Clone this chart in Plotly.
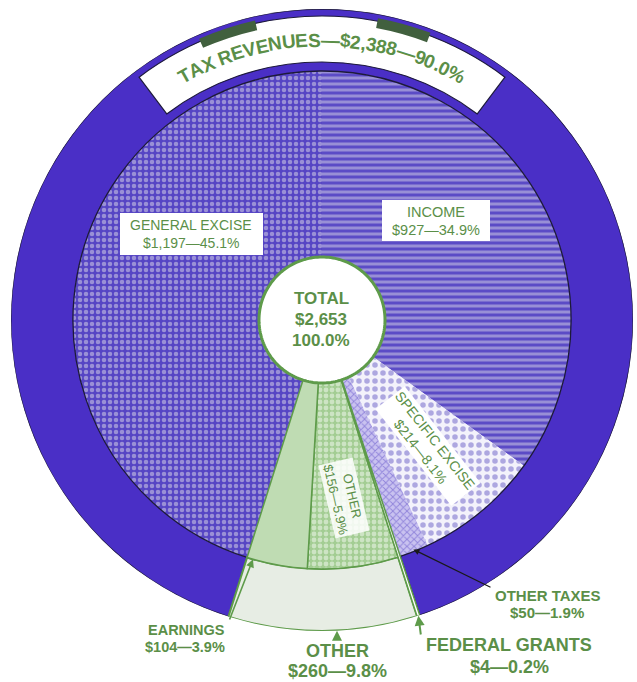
import math
import plotly.graph_objects as go

# ---- revenue data (millions of dollars) ---------------------------------
slices = ["INCOME", "SPECIFIC EXCISE", "OTHER TAXES", "FEDERAL GRANTS",
          "OTHER", "EARNINGS", "GENERAL EXCISE"]
amounts = [927, 214, 50, 4, 156, 104, 1197]
percents = [34.9, 8.1, 1.9, 0.2, 5.9, 3.9, 45.1]

# outer ring groups, clockwise from the federal grants wedge
groups = ["FEDERAL GRANTS", "OTHER", "TAX REVENUES"]
group_amounts = [4, 260, 2388]
group_percents = [0.2, 9.8, 90.0]

total_amount = 2653
total_percent = 100.0

# ---- page geometry -------------------------------------------------------
W, H = 637, 682
CX, CY = 322, 320
R_HOLE, R_PIE, R_OUT = 63, 249, 311

GREEN = "#5b8f48"
LINE_GREEN = "#5e9b4a"
RING_PURPLE = "#4a2fc6"
FONT = "Liberation Sans, Arial, sans-serif"


def fmt(a, p):
    return f"${a:,}\u2014{p:.1f}%"


def polar_px(r, th):
    t = math.radians(th)
    return CX + r * math.sin(t), CY - r * math.cos(t)


def to_paper(px, py):
    return px / W, 1 - py / H


# slice angles (clockwise from 12 o'clock)
span = sum(amounts)
starts, widths = [], []
acc = 0
for a in amounts:
    starts.append(acc / span * 360)
    widths.append(a / span * 360)
    acc += a
mids = [s + w / 2 for s, w in zip(starts, widths)]
idx = {name: i for i, name in enumerate(slices)}

# ring angles
ring_span = sum(group_amounts)
ring_start = starts[idx["FEDERAL GRANTS"]]
ring_starts, ring_widths = [], []
acc = ring_start
for a in group_amounts:
    w = a / ring_span * 360
    ring_starts.append(acc)
    ring_widths.append(w)
    acc += w
ring_mids = [(s + w / 2) % 360 for s, w in zip(ring_starts, ring_widths)]
gidx = {name: i for i, name in enumerate(groups)}

fig = go.Figure()


def sector(theta, width, base, thick, color, line_color=None, line_width=0,
           pattern=None):
    marker = dict(color=color,
                  line=dict(color=line_color or color, width=line_width))
    if pattern:
        marker["pattern"] = pattern
    fig.add_trace(go.Barpolar(r=[thick], theta=[theta], width=[width],
                              base=[base], marker=marker, hoverinfo="skip",
                              showlegend=False))


slice_style = {
    "INCOME": dict(color="#5b4bc6", pattern=dict(
        shape="-", fgcolor="#d6d4e6", bgcolor="#5b4bc6", size=6, solidity=0.5)),
    "SPECIFIC EXCISE": dict(color="#f3f2fb", pattern=dict(
        shape=".", fgcolor="#675bc6", bgcolor="#f3f2fb", size=8, solidity=0.38)),
    "OTHER TAXES": dict(color="#c9c2f0", pattern=dict(
        shape="x", fgcolor="#5a49c6", bgcolor="#c9c2f0", size=5, solidity=0.35)),
    "OTHER": dict(color="#a3cd93", pattern=dict(
        shape=".", fgcolor="#f8fbf5", bgcolor="#a3cd93", size=6, solidity=0.5)),
    "EARNINGS": dict(color="#bfdcb3"),
    "GENERAL EXCISE": dict(color="#5645c4", pattern=dict(
        shape=".", fgcolor="#dddce8", bgcolor="#5645c4", size=6, solidity=0.45)),
}

# inner pie (tax slices first)
for name in ["GENERAL EXCISE", "INCOME", "SPECIFIC EXCISE", "OTHER TAXES"]:
    i = idx[name]
    st = slice_style[name]
    sector(mids[i], widths[i], 0, R_PIE, st["color"], pattern=st.get("pattern"))

# outer ring: tax revenues
g = gidx["TAX REVENUES"]
sector(ring_mids[g], ring_widths[g], R_PIE, R_OUT - R_PIE, RING_PURPLE,
       line_color="#1d1a3a", line_width=1.3)

# outer ring: other (non-tax) revenues
g = gidx["OTHER"]
sector(ring_mids[g], ring_widths[g], R_PIE, R_OUT - R_PIE, "#e7ede4",
       line_color=LINE_GREEN, line_width=2)

# non-tax pie slices
for name in ["OTHER", "EARNINGS"]:
    i = idx[name]
    st = slice_style[name]
    sector(mids[i], widths[i], 0, R_PIE, st["color"], line_color=LINE_GREEN,
           line_width=1.5, pattern=st.get("pattern"))

# federal grants wedge runs out through the ring
i = idx["FEDERAL GRANTS"]
sector(mids[i], widths[i], R_HOLE, R_OUT - R_HOLE, "#ffffff",
       line_color=LINE_GREEN, line_width=1.5)

# title band across the top of the ring
sector(0, 74, 258, 46, "#ffffff", line_color="#1d1a3a", line_width=1.2)

# dark rim marks along the top edge
rim_marks = [(-23.6, -12.6), (10.5, 20.7)]
for a0, a1 in rim_marks:
    sector((a0 + a1) / 2, a1 - a0, 297, 10, "#41603e")

# centre disc
circle_theta = [k * 2 for k in range(181)]
fig.add_trace(go.Scatterpolar(r=[R_HOLE] * len(circle_theta), theta=circle_theta,
                              mode="lines", fill="toself", fillcolor="#ffffff",
                              line=dict(color=LINE_GREEN, width=3),
                              hoverinfo="skip", showlegend=False))

annotations = []
shapes = []


def text_at(px, py, text, size, angle=0, bg=None, color=GREEN, bold=False):
    x, y = to_paper(px, py)
    annotations.append(dict(
        x=x, y=y, xref="paper", yref="paper",
        text=f"<b>{text}</b>" if bold else text, showarrow=False,
        textangle=angle, xanchor="center", yanchor="middle",
        font=dict(family=FONT, size=size, color=color),
        bgcolor=bg or "rgba(0,0,0,0)", borderpad=1))


def arrow(tip_r, tip_th, tail_px, tail_py, color, width=1.2, head=2, size=1):
    tx, ty = polar_px(tip_r, tip_th)
    x, y = to_paper(tx, ty)
    annotations.append(dict(
        x=x, y=y, xref="paper", yref="paper", text="", showarrow=True,
        ax=tail_px - tx, ay=tail_py - ty, axref="pixel", ayref="pixel",
        arrowhead=head, arrowsize=size, arrowwidth=width, arrowcolor=color))


def box(x0, y0, x1, y1):
    a, b = to_paper(x0, y0)
    c, d = to_paper(x1, y1)
    shapes.append(dict(type="rect", xref="paper", yref="paper", x0=a, y0=d,
                       x1=c, y1=b, fillcolor="#ffffff", line=dict(width=0)))


# curved title along the ring
g = gidx["TAX REVENUES"]
title = f"{groups[g]}\u2014${group_amounts[g]:,}\u2014{group_percents[g]:.1f}%"
char_w = {"T": .611, "A": .722, "X": .667, " ": .278, "R": .722, "E": .667,
          "V": .667, "N": .722, "U": .722, "S": .667, "\u2014": 1.0, "$": .556,
          ",": .278, ".": .278, "%": .889}
fs, r_text = 19, 280
ws = [char_w.get(c, .556) * fs for c in title]
tot = sum(ws)
cum = 0
for c, w in zip(title, ws):
    th = math.degrees((cum + w / 2 - tot / 2) / r_text)
    cum += w
    if c == " ":
        continue
    px, py = polar_px(r_text, th)
    text_at(px, py, c, fs, angle=th, bold=True)

# slice labels
i = idx["GENERAL EXCISE"]
box(120, 213, 263, 255)
text_at(191, 225, slices[i], 14)
text_at(191, 243, fmt(amounts[i], percents[i]), 14)

i = idx["INCOME"]
box(382, 200, 490, 241)
text_at(436, 212, slices[i], 14.5)
text_at(436, 230, fmt(amounts[i], percents[i]), 14.5)

i = idx["SPECIFIC EXCISE"]
text_at(428, 446, slices[i] + "<br>" + fmt(amounts[i], percents[i]), 14,
        angle=52, bg="#ffffff")

i = idx["OTHER"]
text_at(344, 498, slices[i] + "<br>" + fmt(amounts[i], percents[i]), 13,
        angle=77, bg="rgba(255,255,255,0.85)")

text_at(321, 298, "TOTAL", 17, bold=True)
text_at(321, 319, f"${total_amount:,}", 17, bold=True)
text_at(321, 340, f"{total_percent:.1f}%", 17, bold=True)

# outside labels with leader lines
i = idx["OTHER TAXES"]
text_at(548, 595, slices[i], 15, bold=True)
text_at(547, 612, fmt(amounts[i], percents[i]), 15, bold=True)
arrow(R_PIE - 2, mids[i], 492, 588, "#1a1a1a", width=1.2)

i = idx["EARNINGS"]
text_at(186, 630, slices[i], 14.5, bold=True)
text_at(185, 647, fmt(amounts[i], percents[i]), 14.5, bold=True)
arrow(R_PIE, starts[i] + 0.9 * widths[i], 229, 621, LINE_GREEN, width=1.6)

g = gidx["OTHER"]
other_x = 337
text_at(other_x, 651, groups[g], 18, bold=True)
text_at(other_x, 671, fmt(group_amounts[g], group_percents[g]), 18, bold=True)
th_other = 180 - math.degrees(math.asin((other_x - CX) / R_OUT))
arrow(R_OUT, th_other, other_x, 641, LINE_GREEN, width=2)

g = gidx["FEDERAL GRANTS"]
text_at(509, 645, groups[g], 18, bold=True)
text_at(509, 667, fmt(group_amounts[g], group_percents[g]), 18, bold=True)
arrow(R_OUT, ring_mids[g], 421, 636, LINE_GREEN, width=2)

fig.update_layout(
    width=W, height=H,
    margin=dict(l=0, r=0, t=0, b=0),
    paper_bgcolor="#ffffff",
    showlegend=False,
    polar=dict(
        domain=dict(x=[(CX - R_OUT) / W, (CX + R_OUT) / W],
                    y=[1 - (CY + R_OUT) / H, 1 - (CY - R_OUT) / H]),
        bgcolor="rgba(0,0,0,0)",
        barmode="overlay",
        angularaxis=dict(rotation=90, direction="clockwise", visible=False,
                         showgrid=False, showline=False),
        radialaxis=dict(range=[0, R_OUT], visible=False, showgrid=False,
                        showline=False),
    ),
    annotations=annotations,
    shapes=shapes,
)

fig.write_html("out.html")
